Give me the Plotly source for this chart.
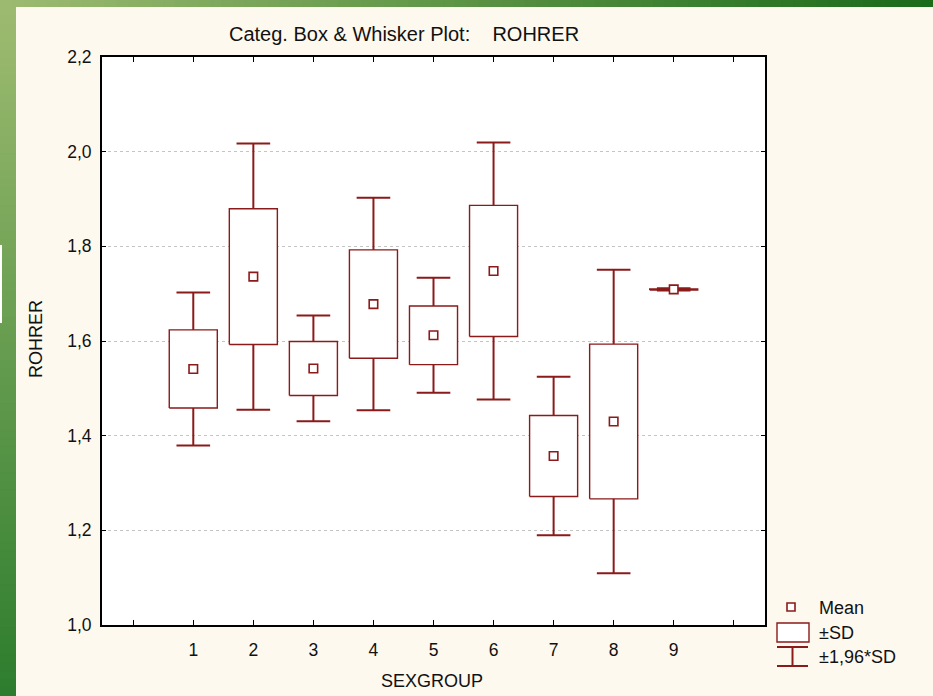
import plotly.graph_objects as go

# ---- data ----
groups = [1, 2, 3, 4, 5, 6, 7, 8, 9]
group_labels = ["1", "2", "3", "4", "5", "6", "7", "8", "9"]
means = [1.541, 1.736, 1.542, 1.678, 1.612, 1.748, 1.357, 1.430, 1.709]
sds = [0.0825, 0.1435, 0.057, 0.1145, 0.062, 0.1385, 0.0855, 0.1635, 0.0012]
whisker_mult = 1.96
y_ticks = [1.0, 1.2, 1.4, 1.6, 1.8, 2.0, 2.2]

DARK_RED = "#8B1A1A"
BG = "#FEF9EE"
FONT = "Arial, Liberation Sans, sans-serif"
TXT = "#111111"

W, H = 933, 696
ML, MR, MT, MB = 102, 168, 57, 71
PW, PH = W - ML - MR, H - MT - MB


def px(xp):
    return (xp - ML) / PW


def py(yp):
    return (H - MB - yp) / PH


box_half = 0.4
cap_half = 0.28

# boxes (±SD)
bx, by = [], []
for g, m, s in zip(groups, means, sds):
    lo, hi = m - s, m + s
    bx += [g - box_half, g + box_half, g + box_half, g - box_half, g - box_half, None]
    by += [lo, lo, hi, hi, lo, None]

# whiskers (±1.96*SD)
wx, wy = [], []
for g, m, s in zip(groups, means, sds):
    lo, hi = m - s, m + s
    wlo, whi = m - whisker_mult * s, m + whisker_mult * s
    wx += [g, g, None, g, g, None, g - cap_half, g + cap_half, None, g - cap_half, g + cap_half, None]
    wy += [hi, whi, None, lo, wlo, None, whi, whi, None, wlo, wlo, None]

fig = go.Figure()
fig.add_trace(go.Scatter(x=bx, y=by, mode="lines", fill="toself", fillcolor="white",
                         line=dict(color=DARK_RED, width=1.4), hoverinfo="skip", showlegend=False))
fig.add_trace(go.Scatter(x=wx, y=wy, mode="lines",
                         line=dict(color=DARK_RED, width=2), hoverinfo="skip", showlegend=False))
fig.add_trace(go.Scatter(x=groups, y=means, mode="markers",
                         marker=dict(symbol="square", size=8.5, color="white",
                                     line=dict(color=DARK_RED, width=1.6)),
                         showlegend=False))

shapes = []
# green decorative strips (stepped gradient)
N = 80
c0 = (0x9D, 0xBB, 0x70)
c_top_end = (0x1A, 0x6B, 0x1A)
c_left_end = (0x2E, 0x7D, 0x2E)


def mix(a, b, t):
    return "rgb(%d,%d,%d)" % tuple(round(a[i] + (b[i] - a[i]) * t) for i in range(3))


for i in range(N):
    t = i / (N - 1)
    x0 = W * i / N
    x1 = W * (i + 1) / N + 1
    shapes.append(dict(type="rect", xref="paper", yref="paper", x0=px(x0), x1=px(x1),
                       y0=py(7), y1=py(0), fillcolor=mix(c0, c_top_end, t), line=dict(width=0),
                       layer="below"))
    y0 = 7 + (H - 7) * i / N
    y1 = 7 + (H - 7) * (i + 1) / N + 1
    shapes.append(dict(type="rect", xref="paper", yref="paper", x0=px(0), x1=px(16),
                       y0=py(y1), y1=py(y0), fillcolor=mix(c0, c_left_end, t), line=dict(width=0),
                       layer="below"))
shapes.append(dict(type="rect", xref="paper", yref="paper", x0=px(0), x1=px(2),
                   y0=py(323), y1=py(245), fillcolor="white", line=dict(width=0)))

# legend icons
shapes.append(dict(type="rect", xref="paper", yref="paper", x0=px(787), x1=px(795),
                   y0=py(611), y1=py(603), fillcolor="white", line=dict(color=DARK_RED, width=1.6)))
shapes.append(dict(type="rect", xref="paper", yref="paper", x0=px(777), x1=px(809),
                   y0=py(642), y1=py(623), fillcolor="white", line=dict(color=DARK_RED, width=1.4)))
shapes.append(dict(type="line", xref="paper", yref="paper", x0=px(792.5), x1=px(792.5),
                   y0=py(666), y1=py(647), line=dict(color=DARK_RED, width=2)))
shapes.append(dict(type="line", xref="paper", yref="paper", x0=px(777), x1=px(808),
                   y0=py(647), y1=py(647), line=dict(color=DARK_RED, width=2)))
shapes.append(dict(type="line", xref="paper", yref="paper", x0=px(777), x1=px(808),
                   y0=py(666), y1=py(666), line=dict(color=DARK_RED, width=2)))

annotations = [
    dict(text="Categ. Box & Whisker Plot:\u00a0\u00a0\u00a0\u00a0ROHRER", xref="paper", yref="paper",
         x=px(404), y=py(34), xanchor="center", yanchor="middle", showarrow=False,
         font=dict(size=20, color=TXT, family=FONT)),
    dict(text="ROHRER", xref="paper", yref="paper", x=px(36), y=py(339), textangle=-90,
         xanchor="center", yanchor="middle", showarrow=False,
         font=dict(size=18, color=TXT, family=FONT)),
    dict(text="SEXGROUP", xref="paper", yref="paper", x=px(432), y=py(681),
         xanchor="center", yanchor="middle", showarrow=False,
         font=dict(size=18, color=TXT, family=FONT)),
    dict(text="Mean", xref="paper", yref="paper", x=px(817), y=py(608),
         xanchor="left", yanchor="middle", showarrow=False,
         font=dict(size=18, color=TXT, family=FONT)),
    dict(text="±SD", xref="paper", yref="paper", x=px(817), y=py(633),
         xanchor="left", yanchor="middle", showarrow=False,
         font=dict(size=18, color=TXT, family=FONT)),
    dict(text="±1,96*SD", xref="paper", yref="paper", x=px(817), y=py(657),
         xanchor="left", yanchor="middle", showarrow=False,
         font=dict(size=18, color=TXT, family=FONT)),
]

fig.update_layout(
    width=W, height=H,
    margin=dict(l=ML, r=MR, t=MT, b=MB),
    paper_bgcolor=BG, plot_bgcolor="white",
    separators=", ",
    font=dict(family=FONT, size=17, color=TXT),
    shapes=shapes, annotations=annotations,
    showlegend=False,
)
fig.update_xaxes(
    range=[-0.52, 10.52], tickmode="array", tickvals=list(range(0, 11)),
    ticktext=[""] + group_labels + [""],
    showgrid=False, zeroline=False, showline=True, linecolor="black", linewidth=2,
    mirror="ticks", ticks="inside", ticklen=5, tickwidth=1, tickcolor="black",
    ticklabelstandoff=8, tickfont=dict(size=17.5, color=TXT),
)
fig.update_yaxes(
    range=[1.0, 2.2], tickmode="array", tickvals=y_ticks, tickformat=".1f",
    showgrid=True, gridcolor="#C4C4C4", griddash="dot", gridwidth=1,
    zeroline=False, showline=True, linecolor="black", linewidth=2,
    mirror="ticks", ticks="inside", ticklen=4, tickwidth=1, tickcolor="black",
    ticklabelstandoff=5, tickfont=dict(size=17.5, color=TXT),
)

fig.write_html("out.html", config={"displayModeBar": False},
               post_script="document.body.style.margin='0';document.body.style.overflow='hidden';")
